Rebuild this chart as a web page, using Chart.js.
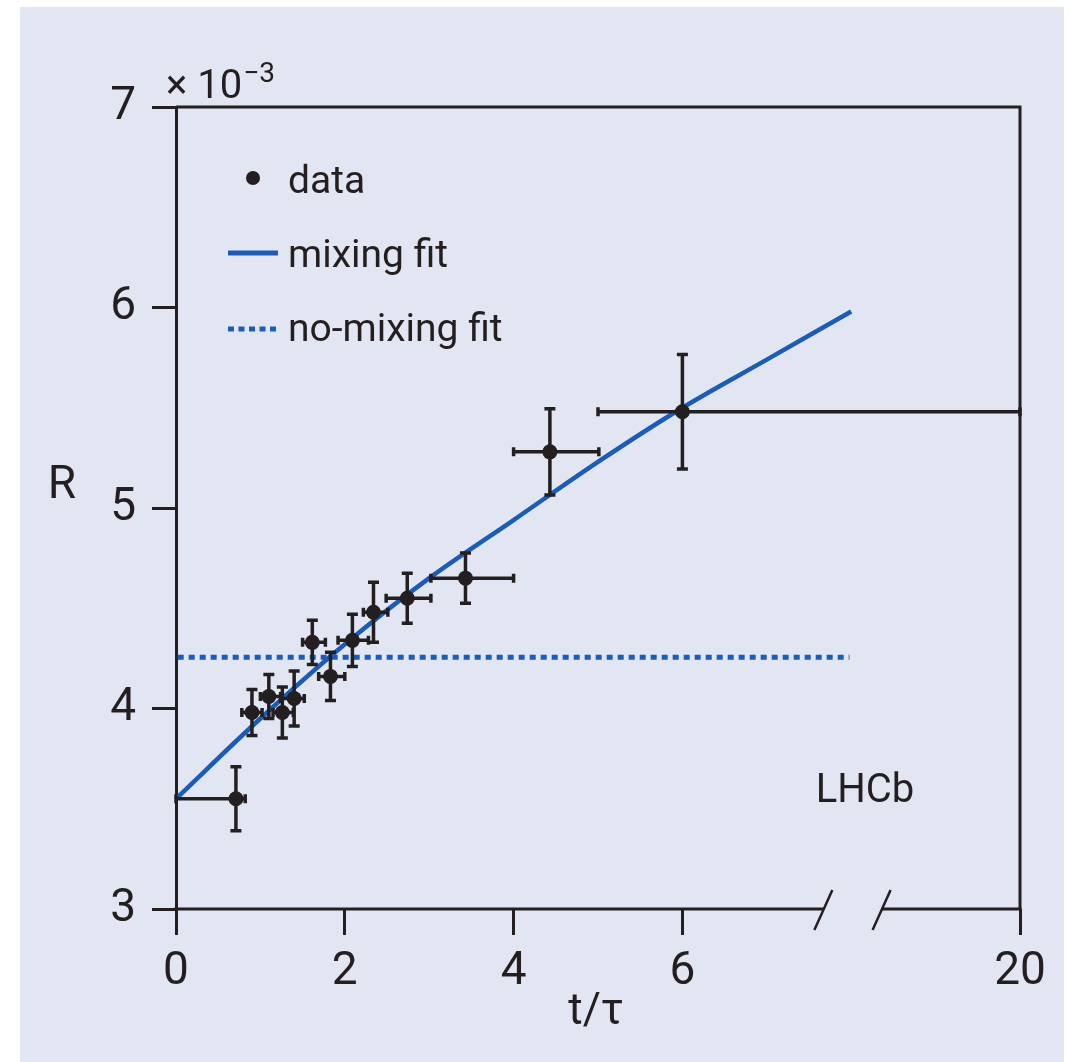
<!DOCTYPE html>
<html>
<head>
<meta charset="utf-8">
<script src="https://cdn.jsdelivr.net/npm/chart.js@4.4.1/dist/chart.umd.min.js"></script>
<style>
html,body{margin:0;padding:0;background:#ffffff;}
#wrap{width:1070px;height:1062px;}
</style>
</head>
<body>
<div id="wrap"><canvas id="c" width="1070" height="1062"></canvas></div>
<script>
// ---- data ----
const tVals  = [0.71, 0.90, 1.10, 1.26, 1.40, 1.615, 1.83, 2.09, 2.34, 2.74, 3.43, 4.43, 6.00];
const rVals  = [3.55, 3.98, 4.06, 3.98, 4.05, 4.33, 4.16, 4.34, 4.48, 4.55, 4.65, 5.28, 5.48];
const rErr   = [0.16, 0.115, 0.11, 0.127, 0.137, 0.11, 0.12, 0.13, 0.15, 0.125, 0.125, 0.215, 0.285];
const tLow   = [0.00, 0.78, 1.00, 1.15, 1.24, 1.50, 1.69, 1.92, 2.22, 2.49, 3.02, 4.00, 5.00];
const tHigh  = [0.82, 1.02, 1.24, 1.39, 1.52, 1.77, 2.00, 2.28, 2.51, 3.02, 4.00, 5.01, 10.0];

const fitT   = [0, 1, 2, 3, 4, 5, 6, 7, 8];
const fitR   = [3.55, 3.95, 4.32, 4.65, 4.94, 5.23, 5.50, 5.74, 5.98];

const noMixT = [0.02, 7.98];
const noMixR = [4.255, 4.255];

const xTickValues = [0, 2, 4, 6, 10];
const xTickLabels = ['0', '2', '4', '6', '20'];
const yTickValues = [3, 4, 5, 6, 7];
const axisBreak   = [7.67, 8.36];

const legendLabels = ['data', 'mixing fit', 'no-mixing fit'];
const xTitle = 't/\u03C4';
const yTitle = 'R';
const expLabel = '\u00D7 10';
const expSup = '\u22123';
const tagLabel = 'LHCb';

// ---- styles ----
const INK = '#231f20';
const BLUE = '#1d5cb6';
const BG = '#e2e6f2';
const FONT = 'Roboto, "Liberation Sans", sans-serif';

const bgPlugin = {
  id: 'bg',
  beforeDraw(chart) {
    const ctx = chart.ctx;
    ctx.save();
    ctx.fillStyle = BG;
    ctx.fillRect(20, 7, chart.width - 26, chart.height - 7);
    ctx.restore();
  }
};

const errPlugin = {
  id: 'errbars',
  beforeDatasetDraw(chart, args) {
    if (args.index !== 0) return;
    const xs = chart.scales.x, ys = chart.scales.y, ctx = chart.ctx;
    ctx.save();
    ctx.strokeStyle = INK;
    ctx.lineWidth = 3.5;
    ctx.lineCap = 'butt';
    for (let i = 0; i < tVals.length; i++) {
      const px = xs.getPixelForValue(tVals[i]);
      const py = ys.getPixelForValue(rVals[i]);
      const y1 = ys.getPixelForValue(rVals[i] + rErr[i]);
      const y2 = ys.getPixelForValue(rVals[i] - rErr[i]);
      const xl = xs.getPixelForValue(tLow[i]);
      const xh = xs.getPixelForValue(tHigh[i]);
      ctx.beginPath();
      ctx.moveTo(px, y1); ctx.lineTo(px, y2);
      ctx.moveTo(px - 5.5, y1); ctx.lineTo(px + 5.5, y1);
      ctx.moveTo(px - 5.5, y2); ctx.lineTo(px + 5.5, y2);
      ctx.moveTo(xl, py); ctx.lineTo(xh, py);
      ctx.moveTo(xl, py - 4.5); ctx.lineTo(xl, py + 4.5);
      ctx.moveTo(xh, py - 4.5); ctx.lineTo(xh, py + 4.5);
      ctx.stroke();
    }
    ctx.restore();
  }
};

const framePlugin = {
  id: 'frame',
  afterDraw(chart) {
    const ctx = chart.ctx, a = chart.chartArea, xs = chart.scales.x;
    ctx.save();
    ctx.strokeStyle = INK;
    ctx.lineWidth = 3;
    ctx.lineCap = 'butt';
    // top & right frame
    ctx.beginPath();
    ctx.moveTo(a.left, a.top); ctx.lineTo(a.right, a.top);
    ctx.moveTo(a.right, a.top - 1.5); ctx.lineTo(a.right, a.bottom);
    ctx.stroke();
    // bottom axis with break
    const b0 = xs.getPixelForValue(axisBreak[0]);
    const b1 = xs.getPixelForValue(axisBreak[1]);
    ctx.beginPath();
    ctx.moveTo(a.left - 1.5, a.bottom); ctx.lineTo(b0, a.bottom);
    ctx.moveTo(b1, a.bottom); ctx.lineTo(a.right + 1.5, a.bottom);
    ctx.stroke();
    ctx.lineWidth = 2.5;
    ctx.beginPath();
    [b0, b1].forEach(b => {
      ctx.moveTo(b - 9, a.bottom + 21); ctx.lineTo(b + 9, a.bottom - 19);
    });
    ctx.stroke();

    // legend
    const lx = a.left + 52, tx = a.left + 112;
    const base = [a.top + 86, a.top + 160, a.top + 234];
    ctx.fillStyle = INK;
    ctx.beginPath();
    ctx.arc(a.left + 77, base[0] - 15, 7, 0, Math.PI * 2);
    ctx.fill();
    ctx.strokeStyle = BLUE;
    ctx.lineWidth = 5;
    ctx.beginPath();
    ctx.moveTo(lx, base[1] - 14); ctx.lineTo(lx + 50, base[1] - 14);
    ctx.stroke();
    ctx.setLineDash([6, 4.5]);
    ctx.beginPath();
    ctx.moveTo(lx, base[2] - 12); ctx.lineTo(lx + 50, base[2] - 12);
    ctx.stroke();
    ctx.setLineDash([]);
    ctx.fillStyle = INK;
    ctx.font = '39px ' + FONT;
    ctx.textAlign = 'left';
    ctx.textBaseline = 'alphabetic';
    legendLabels.forEach((s, i) => ctx.fillText(s, tx, base[i]));

    // axis titles & annotations
    ctx.font = '46px ' + FONT;
    ctx.textAlign = 'center';
    ctx.textBaseline = 'middle';
    ctx.fillText(yTitle, 62, (a.top + a.bottom) / 2 - 22);
    ctx.font = '44px ' + FONT;
    ctx.fillText(xTitle, (a.left + a.right) / 2 - 2, 1013);
    ctx.font = '40px ' + FONT;
    ctx.fillText(tagLabel, 865, 792);
    // exponent
    ctx.textAlign = 'left';
    ctx.textBaseline = 'alphabetic';
    ctx.font = '40px ' + FONT;
    ctx.fillText(expLabel, 166, 98);
    const w = ctx.measureText(expLabel).width;
    ctx.font = '28px ' + FONT;
    ctx.fillText(expSup, 166 + w + 1, 82);
    ctx.restore();
  }
};

new Chart(document.getElementById('c'), {
  type: 'scatter',
  data: {
    datasets: [
      {
        label: legendLabels[0],
        data: tVals.map((t, i) => ({ x: t, y: rVals[i] })),
        pointRadius: 7.5,
        pointBackgroundColor: INK,
        pointBorderWidth: 0,
        showLine: false,
        clip: false
      },
      {
        label: legendLabels[1],
        data: fitT.map((t, i) => ({ x: t, y: fitR[i] })),
        showLine: true,
        borderColor: BLUE,
        borderWidth: 4.5,
        pointRadius: 0,
        cubicInterpolationMode: 'monotone',
        fill: false,
        clip: false
      },
      {
        label: legendLabels[2],
        data: noMixT.map((t, i) => ({ x: t, y: noMixR[i] })),
        showLine: true,
        borderColor: BLUE,
        borderWidth: 5,
        borderDash: [6, 5],
        pointRadius: 0,
        fill: false,
        clip: false
      }
    ]
  },
  options: {
    responsive: false,
    animation: false,
    events: [],
    layout: { padding: { left: 0, top: 107, right: 50, bottom: 0 } },
    plugins: { legend: { display: false }, tooltip: { enabled: false } },
    scales: {
      x: {
        type: 'linear',
        position: 'bottom',
        min: 0, max: 10,
        afterBuildTicks(s) { s.ticks = xTickValues.map(v => ({ value: v })); },
        afterFit(s) { s.height = 153; },
        ticks: {
          autoSkip: false, maxRotation: 0,
          callback(v) { const i = xTickValues.indexOf(v); return i >= 0 ? xTickLabels[i] : ''; },
          font: { family: FONT, size: 46 },
          color: INK,
          padding: 10
        },
        grid: { drawOnChartArea: false, drawTicks: true, tickLength: 26, lineWidth: 3, color: INK },
        border: { display: false }
      },
      y: {
        type: 'linear',
        min: 3, max: 7,
        afterBuildTicks(s) { s.ticks = yTickValues.map(v => ({ value: v })); },
        afterFit(s) { s.width = 176; },
        ticks: {
          font: { family: FONT, size: 46 },
          color: INK,
          padding: 16
        },
        grid: { drawOnChartArea: false, drawTicks: true, tickLength: 24, lineWidth: 3, color: INK },
        border: { display: true, width: 3, color: INK }
      }
    }
  },
  plugins: [bgPlugin, errPlugin, framePlugin]
});
</script>
</body>
</html>
